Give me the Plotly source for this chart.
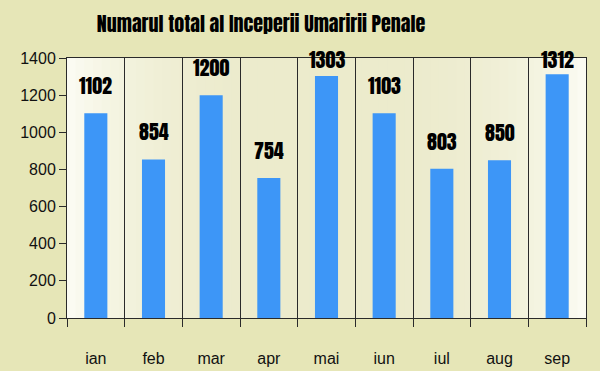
import plotly.graph_objects as go

months = ["ian", "feb", "mar", "apr", "mai", "iun", "iul", "aug", "sep"]
values = [1102, 854, 1200, 754, 1303, 1103, 803, 850, 1312]
y_ticks = [0, 200, 400, 600, 800, 1000, 1200, 1400]
title_text = "Numarul total al Inceperii Umaririi Penale"

BAR = "#3d96f7"
PAPER = "#e6e6b7"
EDGE = (252, 252, 244)
MID = (236, 235, 204)
COND = "Anton, Oswald, Roboto Condensed, sans-serif"
ARIAL = "Liberation Sans, Arial, sans-serif"

fig = go.Figure()
fig.add_trace(go.Bar(x=months, y=values, marker=dict(color=BAR, line=dict(width=0)),
                     width=0.4, hoverinfo="x+y"))

# gradient plot background (style only)
shapes = []
n = 60
for i in range(n):
    t = (i + 0.5) / n
    w = min(1.0, abs(t - 0.5) / 0.5)
    w = w ** 3
    c = tuple(int(MID[k] + (EDGE[k] - MID[k]) * w) for k in range(3))
    shapes.append(dict(type="rect", xref="x domain", yref="y domain",
                       x0=i / n, x1=(i + 1) / n + 0.002, y0=0, y1=1,
                       fillcolor="rgb(%d,%d,%d)" % c, line=dict(width=0), layer="below"))

annotations = []
for m, v in zip(months, values):
    annotations.append(dict(x=m, y=min(v + 150, 1390), text=str(v), showarrow=False,
                            font=dict(family=COND, size=20, color="#000000"),
                            xanchor="center", yanchor="middle"))

fig.update_layout(
    width=600, height=371,
    paper_bgcolor=PAPER, plot_bgcolor="rgba(0,0,0,0)",
    margin=dict(l=67, r=14, t=58, b=53),
    title=dict(text=title_text, x=0.435, xanchor="center", y=0.932, yanchor="middle",
               font=dict(family=COND, size=20, color="#000000")),
    showlegend=False,
    shapes=shapes,
    annotations=annotations,
    bargap=0.6,
)
fig.update_xaxes(type="category", tickson="boundaries", ticks="outside", ticklen=8,
                 tickcolor="#2a2a2a", showgrid=True, gridcolor="#2a2a2a", gridwidth=1,
                 showline=True, linecolor="#2a2a2a", linewidth=1, mirror=True,
                 tickfont=dict(family=ARIAL, size=16, color="#111111"),
                 ticklabelstandoff=26, automargin=False)
fig.update_yaxes(range=[0, 1400], tickvals=y_ticks, ticks="outside", ticklen=7,
                 tickcolor="#2a2a2a", showgrid=False, zeroline=False,
                 showline=True, linecolor="#2a2a2a", linewidth=1, mirror=True,
                 tickfont=dict(family=ARIAL, size=16, color="#111111"), automargin=False)

fig.write_html("out.html", config={"displayModeBar": False},
               post_script="document.body.style.margin='0';document.body.style.background='%s';" % PAPER)
